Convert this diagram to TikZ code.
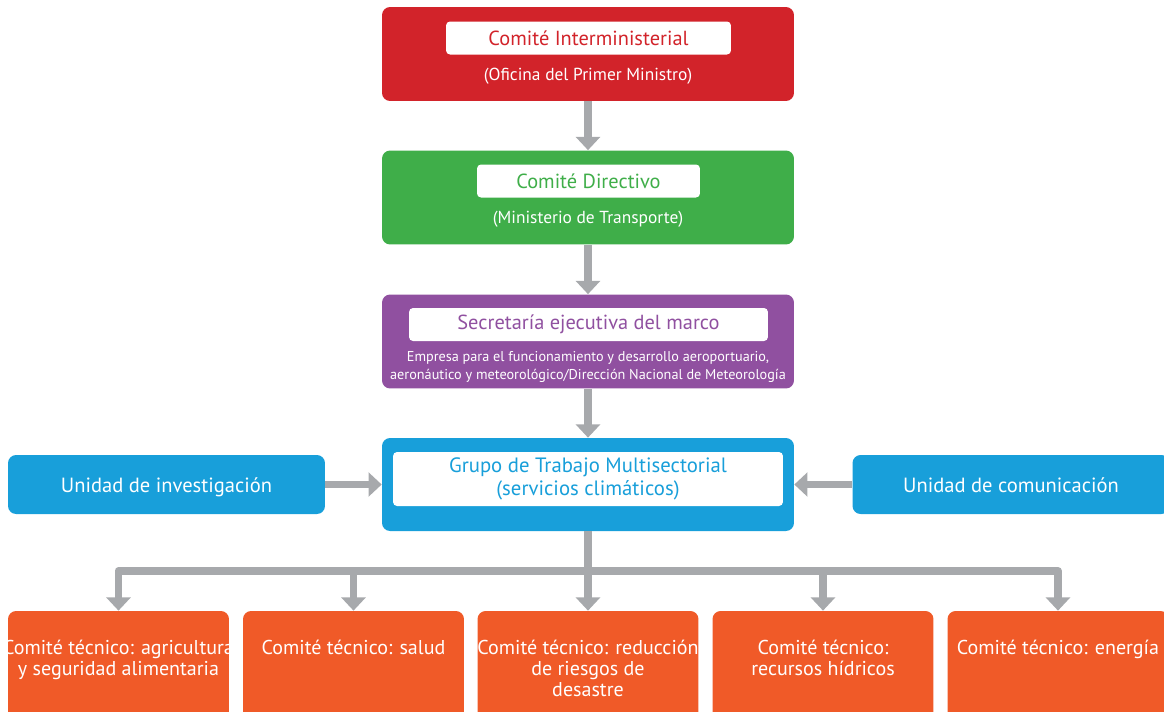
\documentclass[tikz,border=0pt]{standalone}
\usepackage{fontspec}
\setmainfont{PT Sans}
\usetikzlibrary{arrows.meta}
\definecolor{rojo}{HTML}{D2232A}
\definecolor{verde}{HTML}{3FAE49}
\definecolor{morado}{HTML}{9050A0}
\definecolor{azul}{HTML}{189FDA}
\definecolor{naranja}{HTML}{F05A28}
\definecolor{gris}{HTML}{A7A9AC}
\tikzset{
  caja/.style={rounded corners=0.16cm, minimum width=8.24cm, minimum height=1.88cm},
  etiqueta/.style={fill=white, rounded corners=0.08cm, minimum height=0.66cm, font=\fontsize{11.6}{13}\selectfont},
  subtexto/.style={text=white, font=\fontsize{9.9}{12}\selectfont, align=center},
  lateral/.style={fill=azul, rounded corners=0.16cm, minimum width=6.34cm, minimum height=1.18cm,
    text=white, font=\fontsize{11.7}{13}\selectfont, text height=2.2ex, text depth=0.4ex},
  tec/.style={fill=naranja, rounded corners=0.16cm, minimum width=4.42cm, minimum height=2.3cm},
  tectexto/.style={text=white, font=\fontsize{11.4}{12}\selectfont, align=center, anchor=north, inner sep=0pt},
  flecha/.style={draw=gris, line width=4.5pt, line join=round, -{Triangle[width=13.5pt,length=7.5pt]}},
}
\newcommand{\tecnico}[3]{
  \node[tec] (#1) at (#2,668.5) {};
  \node[tectexto] at ([yshift=-0.58cm]#1.north) {#3};
}

\begin{document}
\begin{tikzpicture}[x=0.02cm,y=-0.02cm]
  \clip (0,0) rectangle (1164,711);

  \node[caja, fill=rojo] (interministerial) at (588,54) {};
  \node[etiqueta, text=rojo, minimum width=5.7cm] at (588.5,38) {Comité Interministerial};
  \node[subtexto] at (588,76) {(Oficina del Primer Ministro)};

  \node[caja, fill=verde] (directivo) at (588,197.5) {};
  \node[etiqueta, text=verde, minimum width=4.46cm] at (588.5,181) {Comité Directivo};
  \node[subtexto] at (588,219) {(Ministerio de Transporte)};

  \node[caja, fill=morado] (secretaria) at (588,341.5) {};
  \node[etiqueta, text=morado, minimum width=7.18cm] at (588.5,324.5) {Secretaría ejecutiva del marco};
  \node[subtexto, font=\fontsize{8.1}{10.2}\selectfont] at (588,367)
    {Empresa para el funcionamiento y desarrollo aeroportuario,\\aeronáutico y meteorológico/Dirección Nacional de Meteorología};

  \node[caja, fill=azul, minimum height=1.86cm] (grupo) at (588,484.5) {};
  \node[etiqueta, text=azul, minimum width=7.8cm, minimum height=1.08cm, align=center,
    font=\fontsize{11.8}{13}\selectfont] at (588,479)
    {Grupo de Trabajo Multisectorial\\(servicios climáticos)};

  \node[lateral] (investigacion) at (166.5,484.5) {Unidad de investigación};
  \node[lateral] (comunicacion) at (1011,484.5) {Unidad de comunicación};

  \tecnico{ct1}{118.5}{Comité técnico: agricultura\\y seguridad alimentaria}
  \tecnico{ct2}{353.5}{Comité técnico: salud}
  \tecnico{ct3}{588}{Comité técnico: reducción\\de riesgos de\\desastre}
  \tecnico{ct4}{823}{Comité técnico:\\recursos hídricos}
  \tecnico{ct5}{1058}{Comité técnico: energía}

  \draw[flecha] (interministerial) -- (directivo);
  \draw[flecha] (directivo) -- (secretaria);
  \draw[flecha] (secretaria) -- (grupo);
  \draw[flecha] (investigacion) -- (grupo);
  \draw[flecha] (comunicacion) -- (grupo);

  % reparto hacia los comites tecnicos
  \coordinate (nudo) at (588,571);
  \draw[gris, line width=4.5pt] (grupo.south) -- (nudo);
  \foreach \i in {1,...,5} {
    \draw[flecha] (nudo) -| (ct\i.north);
  }
\end{tikzpicture}
\end{document}
